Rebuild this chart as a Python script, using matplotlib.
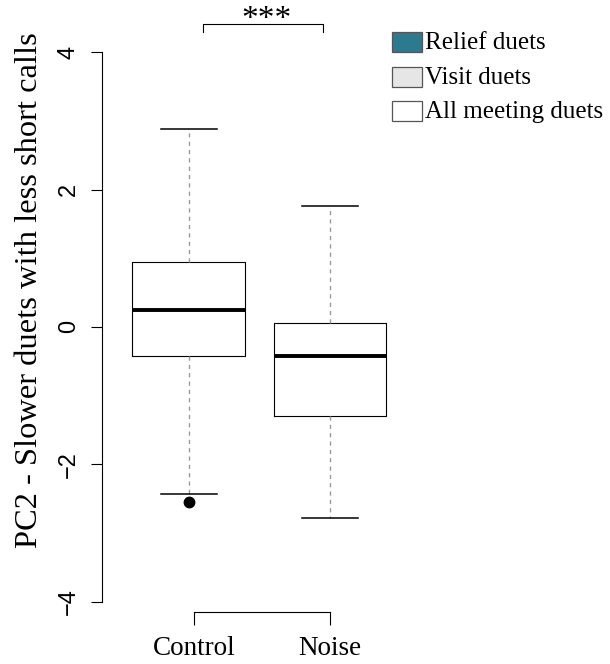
import matplotlib
matplotlib.use("Agg")
import matplotlib.pyplot as plt
from matplotlib.patches import Rectangle

# data
groups = ["Control", "Noise"]
medians = [0.25, -0.42]
q1 = [-0.42, -1.30]
q3 = [0.945, 0.06]
whisker_low = [-2.43, -2.78]
whisker_high = [2.88, 1.76]
outliers = [[-2.55], []]

y_ticks = [-4, -2, 0, 2, 4]
legend_labels = ["Relief duets", "Visit duets", "All meeting duets"]
legend_colors = ["#2B7A8F", "#E6E6E6", "#FFFFFF"]

W, H = 610, 664
fig = plt.figure(figsize=(W / 100, H / 100), dpi=100)

# main axes placed by pixel coordinates
left, right, top, bottom = 102, 414.7, 31.5, 611.7
ax = fig.add_axes([left / W, 1 - bottom / H, (right - left) / W, (bottom - top) / H])
ax.set_xlim(0.385, 2.6)
ax.set_ylim(-4.145, 4.3)

stats = []
for i, g in enumerate(groups):
    stats.append(dict(label=g, med=medians[i], q1=q1[i], q3=q3[i],
                      whislo=whisker_low[i], whishi=whisker_high[i],
                      fliers=outliers[i]))

ax.bxp(stats, positions=[1, 2], widths=0.8, showfliers=True,
       boxprops=dict(color="black", linewidth=0.8),
       medianprops=dict(color="black", linewidth=2.8, solid_capstyle="butt"),
       whiskerprops=dict(color="#9A9A9A", linewidth=1.0, linestyle=(0, (3, 3))),
       capprops=dict(color="black", linewidth=1.1),
       flierprops=dict(marker="o", markerfacecolor="black", markeredgecolor="black",
                       markersize=7.5))

# axes styling like R base graphics
for s in ["top", "right"]:
    ax.spines[s].set_visible(False)
ax.spines["left"].set_bounds(-4, 4)
ax.spines["bottom"].set_bounds(1.04, 2.0)
ax.spines["left"].set_linewidth(0.8)
ax.spines["bottom"].set_linewidth(0.8)

ax.set_yticks(y_ticks)
ax.set_yticklabels([str(v).replace("-", "\u2212") for v in y_ticks],
                   rotation=90, va="center", fontsize=17, family="Liberation Sans")
ax.tick_params(axis="y", length=8, width=0.8, pad=8)

ax.set_xticks([1.04, 2.0])
ax.set_xticklabels(groups, fontsize=19.5, family="Liberation Serif")
ax.tick_params(axis="x", length=9.5, width=0.8, pad=8)

# overlay in pixel coordinates for annotations, axis title and legend
ov = fig.add_axes([0, 0, 1, 1])
ov.set_xlim(0, W)
ov.set_ylim(H, 0)
ov.axis("off")
ov.patch.set_alpha(0)

ov.text(30, 290, "PC2 - Slower duets with less short calls", rotation=90,
        ha="center", va="center", fontsize=23.4, family="Liberation Serif")

# significance bracket
ov.plot([203.3, 203.3, 323.3, 323.3], [31.7, 24.3, 24.3, 31.7], color="black", lw=0.8)
ov.text(266.7, 27.5, "***", ha="center", va="baseline", fontsize=24, family="Liberation Serif")

# legend
box_y = [42.3, 76.7, 111.3]
for lab, col, yc in zip(legend_labels, legend_colors, box_y):
    ov.add_patch(Rectangle((392, yc - 10), 30, 20, facecolor=col, edgecolor="#555555", lw=0.9))
    ov.text(425, yc + 1, lab, ha="left", va="center", fontsize=18, family="Liberation Serif")

fig.savefig("out.png", dpi=100)
